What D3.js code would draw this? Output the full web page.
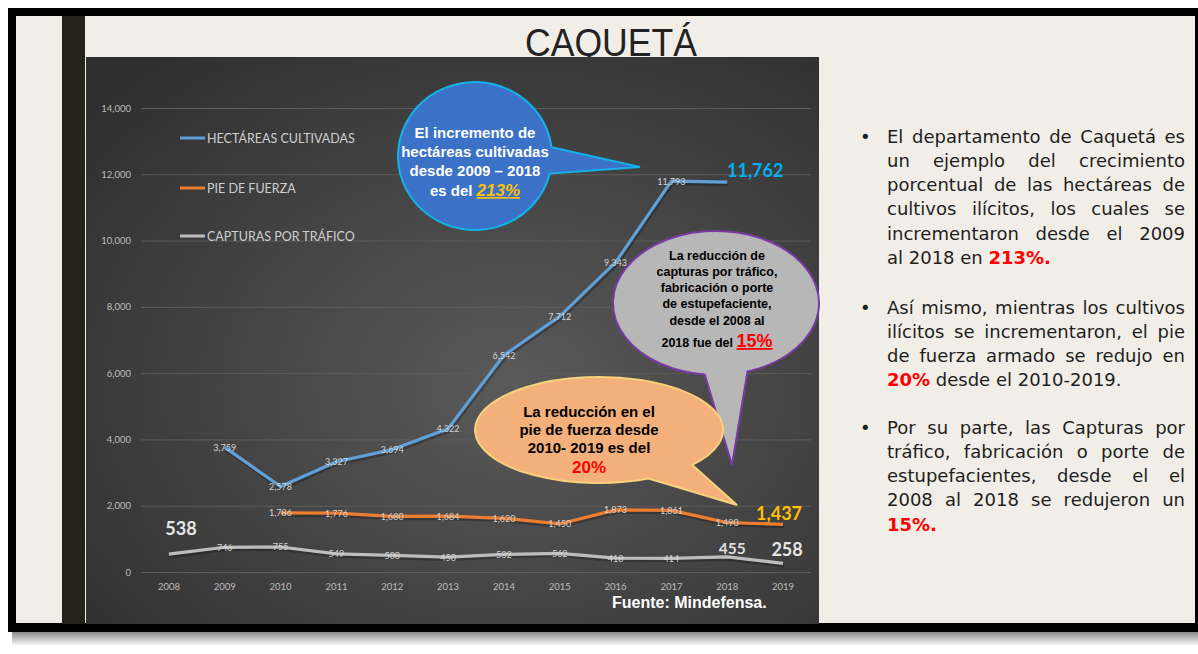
<!DOCTYPE html>
<html>
<head>
<meta charset="utf-8">
<script src="https://d3js.org/d3.v7.min.js"></script>
<style>
  body { margin: 0; background: #fff; }
  #slide { width: 1198px; height: 654px; overflow: hidden; }
</style>
</head>
<body>
<div id="slide"></div>
<script>
// ---- data ----
const years = [2008, 2009, 2010, 2011, 2012, 2013, 2014, 2015, 2016, 2017, 2018, 2019];
const hectareas = [null, 3759, 2578, 3327, 3694, 4322, 6542, 7712, 9343, 11793, 11762, null];
const pieFuerza = [null, null, 1786, 1776, 1680, 1684, 1620, 1450, 1873, 1861, 1490, 1437];
const capturas = [538, 746, 755, 549, 500, 450, 532, 562, 418, 414, 455, 258];
const yTicks = [0, 2000, 4000, 6000, 8000, 10000, 12000, 14000];
const seriesNames = ["HECTÁREAS CULTIVADAS", "PIE DE FUERZA", "CAPTURAS POR TRÁFICO"];
const seriesColors = ["#5fa0d9", "#ed7d31", "#bdbdbd"];

const bullets = [
  ["El departamento de Caquetá es", "un ejemplo del crecimiento", "porcentual de las hectáreas de",
   "cultivos ilícitos, los cuales se", "incrementaron desde el 2009", "al 2018 en *213%.*"],
  ["Así mismo, mientras los cultivos", "ilícitos se incrementaron, el pie",
   "de fuerza armado se redujo en", "*20%* desde el 2010-2019."],
  ["Por su parte, las Capturas por", "tráfico, fabricación o porte de", "estupefacientes, desde el el",
   "2008 al 2018 se redujeron un", "*15%.*"]
];

const W = 1198, H = 654;
const svg = d3.select("#slide").append("svg").attr("width", W).attr("height", H);
const defs = svg.append("defs");

const pg = defs.append("radialGradient").attr("id", "panelGrad")
  .attr("cx", "58%").attr("cy", "58%").attr("r", "75%");
pg.append("stop").attr("offset", "0%").attr("stop-color", "#5a5a5a");
pg.append("stop").attr("offset", "100%").attr("stop-color", "#2f2f2f");

const sg = defs.append("linearGradient").attr("id", "shadowGrad")
  .attr("x1", 0).attr("y1", 0).attr("x2", 0).attr("y2", 1);
sg.append("stop").attr("offset", "0%").attr("stop-color", "#7a7a7a");
sg.append("stop").attr("offset", "100%").attr("stop-color", "#ffffff");

// ---- slide frame ----
svg.append("rect").attr("x", 12).attr("y", 630).attr("width", 1190).attr("height", 16).attr("fill", "url(#shadowGrad)");
svg.append("rect").attr("x", 8).attr("y", 8).attr("width", 1200).attr("height", 624).attr("fill", "#000");
svg.append("rect").attr("x", 16).attr("y", 16).attr("width", 1179).attr("height", 607).attr("fill", "#f1eee7");
svg.append("rect").attr("x", 62).attr("y", 16).attr("width", 23).attr("height", 608).attr("fill", "#23231a");

svg.append("text").attr("x", 611).attr("y", 56)
  .attr("text-anchor", "middle")
  .attr("textLength", 172).attr("lengthAdjust", "spacingAndGlyphs")
  .style("font-family", "Liberation Sans, Arial, sans-serif").style("font-size", "38px")
  .attr("fill", "#222")
  .text("CAQUETÁ");

// ---- chart panel ----
svg.append("rect").attr("x", 86).attr("y", 57).attr("width", 733).attr("height", 567).attr("fill", "url(#panelGrad)");

const x = d3.scaleBand().domain(years).range([141, 811]);
const cx = yr => x(yr) + x.bandwidth() / 2;
const y = d3.scaleLinear().domain([0, 14000]).range([572, 108]);

const yAxis = svg.append("g").attr("transform", "translate(141,0)")
  .call(d3.axisLeft(y).tickValues(yTicks).tickSize(-670).tickPadding(10).tickFormat(d3.format(",")));
yAxis.select(".domain").remove();
yAxis.selectAll("line").attr("stroke", "#5d5d5d").attr("stroke-width", 1);
yAxis.selectAll("text").attr("fill", "#bdbdbd").style("font-family", "Lato, sans-serif").style("font-size", "9.5px");

const xAxis = svg.append("g").attr("transform", "translate(0,572)")
  .call(d3.axisBottom(x).tickSize(0).tickPadding(11));
xAxis.select(".domain").remove();
xAxis.selectAll("text").attr("fill", "#bdbdbd").style("font-family", "Lato, sans-serif").style("font-size", "9.5px");

// legend
const legend = svg.append("g").selectAll("g").data(seriesNames).join("g")
  .attr("transform", (d, i) => `translate(180,${[138, 188, 236][i]})`);
legend.append("line").attr("x1", 0).attr("x2", 25)
  .attr("stroke", (d, i) => seriesColors[i]).attr("stroke-width", 3);
legend.append("text").attr("x", 27).attr("y", 4.5).text(d => d)
  .attr("fill", "#cfcfcf").style("font-family", "Lato, sans-serif").style("font-size", "12.5px");

// lines
const allSeries = [hectareas, pieFuerza, capturas];
const line = d3.line()
  .defined(d => d.v != null)
  .x(d => cx(d.yr)).y(d => y(d.v));
allSeries.forEach((vals, s) => {
  const pts = years.map((yr, i) => ({ yr, v: vals[i] }));
  svg.append("path").datum(pts).attr("d", line)
    .attr("fill", "none").attr("stroke", "#000").attr("stroke-opacity", 0.25)
    .attr("stroke-width", 4).attr("transform", "translate(1,2)");
  svg.append("path").datum(pts).attr("d", line)
    .attr("fill", "none").attr("stroke", seriesColors[s]).attr("stroke-width", 3.2)
    .attr("stroke-linejoin", "round");
});

// highlighted labels
const bigLabels = [
  { s: 0, i: 10, dx: 28, dy: -12, color: "#00b0f0", size: 18 },
  { s: 1, i: 11, dx: -4, dy: -11, color: "#ffc000", size: 18 },
  { s: 2, i: 0, dx: 12, dy: -26, color: "#e6e6e6", size: 18 },
  { s: 2, i: 10, dx: 5, dy: -9, color: "#dedede", size: 15.5 },
  { s: 2, i: 11, dx: 4, dy: -14, color: "#e6e6e6", size: 18 }
];
const fmt = d3.format(",");
allSeries.forEach((vals, s) => {
  const pts = years.map((yr, i) => ({ yr, v: vals[i], i }))
    .filter(d => d.v != null && !bigLabels.some(b => b.s === s && b.i === d.i));
  svg.append("g").selectAll("text").data(pts).join("text")
    .attr("x", d => cx(d.yr)).attr("y", d => y(d.v))
    .attr("text-anchor", "middle").attr("dominant-baseline", "central")
    .attr("fill", "#d4d4d4")
    .style("font-family", "Lato, sans-serif").style("font-size", "9px")
    .text(d => fmt(d.v));
});
svg.append("g").selectAll("text").data(bigLabels).join("text")
  .attr("x", d => cx(years[d.i]) + d.dx)
  .attr("y", d => y(allSeries[d.s][d.i]) + d.dy)
  .attr("text-anchor", "middle").attr("dominant-baseline", "central")
  .attr("fill", d => d.color)
  .style("font-family", "Lato, sans-serif").style("font-weight", "bold")
  .style("font-size", d => d.size + "px")
  .text(d => fmt(allSeries[d.s][d.i]));

// ---- callouts ----
function callout(c) {
  const p = a => [c.cx + c.rx * Math.cos(a), c.cy + c.ry * Math.sin(a)];
  const p1 = p(c.phi + c.delta), p2 = p(c.phi - c.delta);
  svg.append("path")
    .attr("d", `M${p1}A${c.rx},${c.ry} 0 1 1 ${p2}L${c.tip}Z`)
    .attr("fill", c.fill).attr("stroke", c.stroke).attr("stroke-width", 2)
    .attr("stroke-linejoin", "miter");
  const t = svg.append("text").attr("text-anchor", "middle")
    .style("font-family", "Liberation Sans, Arial, sans-serif").style("font-weight", "bold")
    .style("font-size", c.size + "px").attr("fill", c.color);
  c.lines.forEach((ln, k) => {
    const tl = t.append("tspan").attr("x", c.tx).attr("y", c.ty[k]);
    ln.forEach(seg => {
      const sp = tl.append("tspan").text(seg.t);
      if (seg.hl) {
        sp.attr("fill", seg.hl.color).style("font-size", seg.hl.size + "px")
          .style("text-decoration", seg.hl.u ? "underline" : null)
          .style("font-style", seg.hl.it ? "italic" : null);
      }
    });
  });
}

callout({
  cx: 475, cy: 156, rx: 77, ry: 74, phi: 0.06, delta: 0.18, tip: [640, 167],
  fill: "#3b72c8", stroke: "#12b2ea", color: "#fff", size: 15, tx: 475,
  ty: [138, 157, 176, 196],
  lines: [[{ t: "El incremento de" }], [{ t: "hectáreas cultivadas" }], [{ t: "desde 2009 – 2018" }],
          [{ t: "es del " }, { t: "213%", hl: { color: "#ffc000", size: 17, u: true, it: true } }]]
});
callout({
  cx: 716, cy: 303, rx: 103, ry: 72, phi: 1.47, delta: 0.21, tip: [732, 465],
  fill: "#b7b7b7", stroke: "#7a3aa6", color: "#000", size: 12.5, tx: 717,
  ty: [260, 276, 292, 308, 325, 347],
  lines: [[{ t: "La reducción de" }], [{ t: "capturas por tráfico," }], [{ t: "fabricación o porte" }],
          [{ t: "de estupefaciente," }], [{ t: "desde el 2008 al" }],
          [{ t: "2018 fue del " }, { t: "15%", hl: { color: "#ff0000", size: 18, u: true } }]]
});
callout({
  cx: 599, cy: 430, rx: 124, ry: 53, phi: 0.94, delta: 0.22, tip: [737, 505],
  fill: "#f4b07b", stroke: "#f6d27a", color: "#000", size: 15, tx: 589,
  ty: [417, 435, 453, 473],
  lines: [[{ t: "La reducción en el" }], [{ t: "pie de fuerza desde" }], [{ t: "2010- 2019 es del" }],
          [{ t: "20%", hl: { color: "#ff0000", size: 17 } }]]
});

svg.append("text").attr("x", 612).attr("y", 608)
  .style("font-family", "Liberation Sans, Arial, sans-serif").style("font-weight", "bold").style("font-size", "16px")
  .attr("fill", "#fff").text("Fuente: Mindefensa.");

// ---- bullet text, justified ----
const tLeft = 887, tWidth = 298, lh = 24.15;
const starts = [143, 314, 434];
const body = svg.append("g")
  .style("font-family", "DejaVu Sans, sans-serif").style("font-size", "18px").attr("fill", "#1e1e1e");
bullets.forEach((para, p) => {
  body.append("text").attr("x", 860).attr("y", starts[p]).text("•");
  para.forEach((ln, k) => {
    const t = body.append("text").attr("x", tLeft).attr("y", starts[p] + k * lh);
    ln.split("*").forEach((seg, j) => {
      if (!seg) return;
      const sp = t.append("tspan").text(seg);
      if (j % 2 === 1) sp.attr("fill", "#ff0000").style("font-weight", "bold");
    });
    if (k < para.length - 1) {
      const full = ln.replace(/\*/g, "");
      const spaces = (full.match(/ /g) || []).length;
      const nat = t.node().getComputedTextLength();
      if (spaces) t.attr("word-spacing", (tWidth - nat) / spaces);
    }
  });
});
</script>
</body>
</html>
